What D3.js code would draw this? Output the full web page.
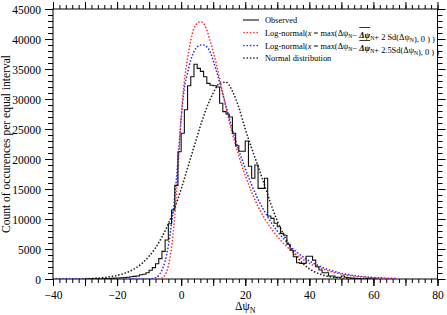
<!DOCTYPE html>
<html><head><meta charset="utf-8">
<script src="https://cdn.jsdelivr.net/npm/d3@7"></script>
<style>
body{margin:0;background:#fff;}
svg{display:block;}
svg text{font-family:"Liberation Serif","Tinos","Times New Roman","DejaVu Serif",serif;}
</style></head>
<body><svg id="c" width="447" height="315"></svg>
<script>
// ---- data ----
const binStart = -30;           // observed histogram: bins of width 1, first bin [-30,-29]
const observed = [10,15,20,30,40,50,70,90,110,140,170,200,250,300,380,430,500,700,800,1050,
  1450,1900,2550,3400,4600,6500,9200,11500,15600,21200,
  24300,28200,32200,33700,35800,35100,34600,33700,32600,32300,32200,32000,29300,27900,27500,27000,24300,22200,21300,21300,
  23000,18800,16800,19000,15100,15100,16800,10500,10100,9300,8700,7600,7300,5800,4800,3700,2700,2600,2600,3800,
  3800,3150,2050,1500,1050,1050,500,500,280,280,500,300,200,150,100,60,40,30,20,10,5];

const lnX2   = [-8,-7,-6,-5,-4,-3,-2,-1,0,1,2,3,4,5,6,7,8,9,10,11,12,13,14,15,16,17,18,19,20,22,24,26,28,30,32,34,36,38,40,42,44,46,48,50,52,54,56,58,60,62,64,66,67];
const lnY2   = [0,0,150,700,2200,5300,10500,18000,27000,33000,36800,39800,41800,42600,42900,42600,41500,39800,37900,35800,33400,31000,28600,26300,24200,22300,20500,18800,17300,14500,12100,10100,8500,7100,5900,4900,4000,3250,2600,2100,1700,1350,1050,820,620,470,350,260,190,140,100,70,60];

const lnX25  = [-40,-30,-20,-12,-10,-9,-8,-7,-6,-5,-4,-3,-2,-1,0,1,2,3,4,5,6,7,8,9,10,11,12,13,14,15,16,17,18,19,20,22,24,26,28,30,32,34,36,38,40,42,44,46,48,50,52,54,56,58,60,62,64,66,67];
const lnY25  = [0,0,0,0,0,50,200,600,1500,3000,5600,9200,13800,19800,26800,31800,34400,36500,37900,38700,39000,39000,38700,37900,36400,34700,32800,30800,28800,26800,24900,23100,21400,19900,18400,15700,13300,11300,9500,8000,6700,5500,4500,3700,3000,2450,1950,1550,1230,950,740,570,440,330,250,190,140,100,90];

const normX  = [-40,-36,-32,-30,-28,-26,-24,-22,-20,-18,-16,-14,-12,-10,-8,-6,-4,-2,0,2,4,6,8,10,12,14,16,18,20,22,24,26,28,30,32,34,36,38,40,42,44,46,48,50,52,54,56,58,62,66];
const normY  = [5,15,30,50,100,150,250,380,600,900,1300,1900,2700,3800,5200,7000,9200,11900,15000,18500,22000,25500,28600,31000,32600,32800,31300,28600,25000,21800,18800,15700,12500,9700,7400,5400,3800,2600,1700,1100,700,420,250,150,80,40,20,10,5,0];

const xTicks = [-40,-20,0,20,40,60,80];
const yTicks = [0,5000,10000,15000,20000,25000,30000,35000,40000,45000];
const legendLabels = ["Observed","Log-normal","Log-normal","Normal distribution"];

// ---- layout ----
const FONT = '"Liberation Serif","Tinos","Times New Roman","DejaVu Serif",serif';
const svg = d3.select("#c");
const L = 53, R = 437.5, T = 9, B = 279;
const x = d3.scaleLinear().domain([-40,80]).range([L,R]);
const y = d3.scaleLinear().domain([0,45000]).range([B,T]);

const xMinor = d3.range(-40,81,2), xMid = d3.range(-40,81,10);
const yMinor = d3.range(0,45001,1000);

function drawAxis(axisFn, scale, transform, vals, size, labels){
  const a = axisFn(scale).tickValues(vals).tickSize(size).tickSizeOuter(0).tickPadding(4)
    .tickFormat(labels ? d3.format("d") : "");
  const g = svg.append("g").attr("transform",transform).call(a);
  g.attr("font-family",FONT);
  g.select(".domain").remove();
  g.selectAll("line").attr("stroke","#000").attr("stroke-width",1);
  g.selectAll("text").attr("font-size",11.5).attr("fill","#000");
  return g;
}
// bottom
drawAxis(d3.axisBottom,x,`translate(0,${B})`,xMinor,4,false);
drawAxis(d3.axisBottom,x,`translate(0,${B})`,xMid,7,false);
const gb = drawAxis(d3.axisBottom,x,`translate(0,${B})`,xTicks,7,true);
gb.selectAll("text").attr("y",11.5).attr("dy","0.71em");
// top
drawAxis(d3.axisTop,x,`translate(0,${T})`,xMinor,4,false);
drawAxis(d3.axisTop,x,`translate(0,${T})`,xMid,7,false);
// left
drawAxis(d3.axisLeft,y,`translate(${L},0)`,yMinor,5,false);
const gl = drawAxis(d3.axisLeft,y,`translate(${L},0)`,yTicks,8,true);
gl.selectAll("text").attr("dy","0.35em").attr("x",-12);
// right
drawAxis(d3.axisRight,y,`translate(${R},0)`,yMinor,5,false);
drawAxis(d3.axisRight,y,`translate(${R},0)`,yTicks,8,false);

svg.append("rect").attr("x",L).attr("y",T).attr("width",R-L).attr("height",B-T)
  .attr("fill","none").attr("stroke","#000").attr("stroke-width",1);

// ---- series ----
svg.append("defs").append("clipPath").attr("id","pc")
  .append("rect").attr("x",L).attr("y",T-2).attr("width",R-L).attr("height",B-T+2);
const plot = svg.append("g").attr("clip-path","url(#pc)");

const obsPts = [[binStart,0]].concat(observed.map((v,i)=>[binStart+i,v]));
obsPts.push([binStart+observed.length, observed[observed.length-1]]);
obsPts.push([binStart+observed.length, 0]);
const stepLine = d3.line().x(d=>x(d[0])).y(d=>y(d[1])).curve(d3.curveStepAfter);
const smooth = d3.line().x(d=>x(d[0])).y(d=>y(d[1])).curve(d3.curveMonotoneX);

const dot = "0.01,3.3";
function dotted(sel,c){
  return sel.attr("fill","none").attr("stroke",c).attr("stroke-width",1.7)
    .attr("stroke-linecap","round").attr("stroke-dasharray",dot);
}
dotted(plot.append("path").attr("d",smooth(normX.map((v,i)=>[v,normY[i]]))),"#222");
dotted(plot.append("path").attr("d",smooth(lnX25.map((v,i)=>[v,lnY25[i]]))),"#2a2aff");
dotted(plot.append("path").attr("d",smooth(lnX2.map((v,i)=>[v,lnY2[i]]))),"#ff3030");
plot.append("path").attr("d",stepLine(obsPts))
  .attr("fill","none").attr("stroke","#111").attr("stroke-width",1.1);

// ---- legend ----
const lg = svg.append("g").attr("font-family",FONT);
const rows = [20,32.5,45.5,58];
const colors = ["#111","#ff3030","#2a2aff","#222"];
rows.forEach((ry,i)=>{
  const ln = lg.append("line").attr("x1",i===0?243:244).attr("x2",i===0?259:258).attr("y1",ry).attr("y2",ry);
  if(i===0) ln.attr("stroke",colors[i]).attr("stroke-width",1.1);
  else dotted(ln,colors[i]);
});
const fs = 8.4;
function plain(ry,txt){
  lg.append("text").attr("x",265).attr("y",ry+3).attr("font-size",fs).attr("fill","#000").text(txt);
}
plain(rows[0],legendLabels[0]);
plain(rows[3],legendLabels[3]);
function lnLabel(ry,k){
  const t = lg.append("text").attr("x",265).attr("y",ry+3).attr("font-size",fs).attr("fill","#000");
  const sub = (s)=>{ t.append("tspan").attr("dy",2).attr("font-size",5.8).text(s); t.append("tspan").attr("dy",-2).text(""); };
  t.append("tspan").text(legendLabels[1]+"(");
  t.append("tspan").attr("font-style","italic").text("x");
  t.append("tspan").text(" = max(Δψ");
  sub("N");
  t.append("tspan").text("− ");
  const ov = t.append("tspan").attr("font-style","italic").attr("font-weight","bold").text("Δψ");
  sub("N");
  t.append("tspan").text("+ "+k+"Sd(Δψ");
  sub("N");
  t.append("tspan").text("), 0 ) )");
  try{
    const n = ov.node();
    const s = n.getStartPositionOfChar(0).x;
    const w = n.getComputedTextLength();
    lg.append("line").attr("x1",s).attr("x2",s+w).attr("y1",ry-5).attr("y2",ry-5)
      .attr("stroke","#000").attr("stroke-width",0.8);
  }catch(e){}
}
lnLabel(rows[1],"2 ");
lnLabel(rows[2],"2.5");

// ---- axis titles ----
const xt = svg.append("text").attr("x",(L+R)/2).attr("y",309.5).attr("text-anchor","middle")
  .attr("font-size",11.5).attr("fill","#000").attr("font-family",FONT);
xt.append("tspan").text("Δψ");
xt.append("tspan").attr("dy",3).attr("font-size",8).text("N");

svg.append("text").attr("transform",`translate(10,${(T+B)/2}) rotate(-90)`)
  .attr("text-anchor","middle").attr("font-size",11.5).attr("fill","#000").attr("font-family",FONT)
  .text("Count of occurences per equal interval");
</script></body></html>
